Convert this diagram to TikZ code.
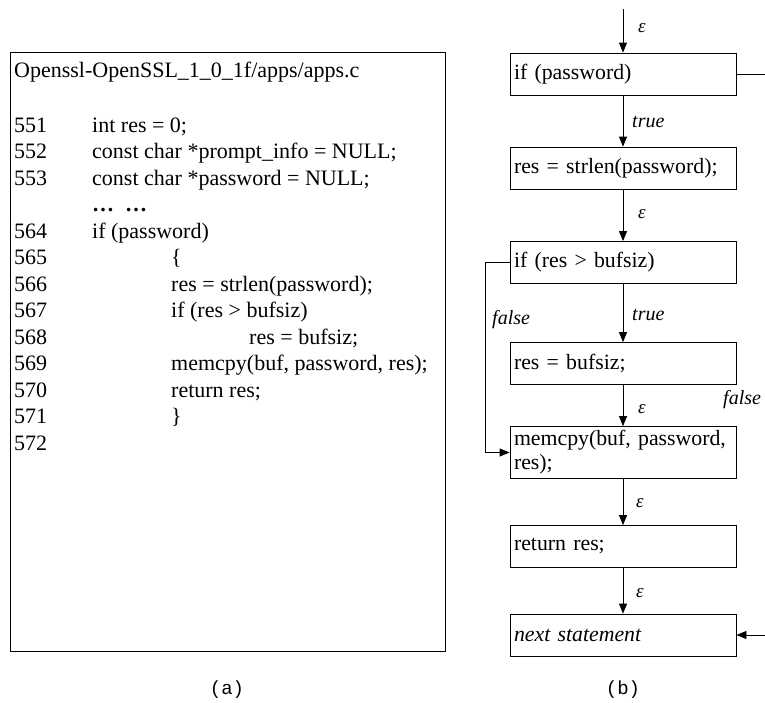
\documentclass[tikz,border=0pt]{standalone}
\usepackage{fontspec}
\setmainfont{Liberation Serif}
\newfontfamily\capfont{Liberation Mono}
\usetikzlibrary{arrows.meta}

\begin{document}
\begin{tikzpicture}[x=1pt,y=-1pt,
  stmt/.style={draw=black,line width=0.8pt,rectangle,minimum width=226pt,minimum height=42pt,
    text width=218pt,inner sep=4pt,align=left,font=\fontsize{21.8}{24}\selectfont},
  src/.style={anchor=base west,inner sep=0pt,font=\fontsize{22}{25}\selectfont},
  flow/.style={draw=black,line width=0.8pt,-{Triangle[length=10pt,width=8pt]}},
  cond/.style={anchor=west,inner sep=0pt,font=\fontsize{20}{24}\selectfont\itshape},
  eps/.style={anchor=west,inner sep=0pt,font=\fontsize{19}{20}\selectfont\itshape},
  subcap/.style={font=\fontsize{19}{20}\selectfont\capfont}]
\clip (0,0) rectangle (765,702);
\fill[white] (0,0) rectangle (765,702);

% (a) source listing
\node[draw=black,line width=0.8pt,minimum width=435pt,minimum height=599pt,inner sep=0pt] at (227.5,351.5) (code) {};
\node[src] at (14,77) (file) {Openssl-OpenSSL\_1\_0\_1f/apps/apps.c};
\node[src] at (14,132) (n551) {551};
\node[src] at (14,158.5) (n552) {552};
\node[src] at (14,185) (n553) {553};
\node[src] at (14,238) (n564) {564};
\node[src] at (14,264.5) (n565) {565};
\node[src] at (14,291) (n566) {566};
\node[src] at (14,317.5) (n567) {567};
\node[src] at (14,344) (n568) {568};
\node[src] at (14,370.5) (n569) {569};
\node[src] at (14,397) (n570) {570};
\node[src] at (14,423.5) (n571) {571};
\node[src] at (14,450) (n572) {572};
\node[src] at (92,132) (l551) {int res = 0;};
\node[src] at (92,158.5) (l552) {const char *prompt\_info = NULL;};
\node[src] at (92,185) (l553) {const char *password = NULL;};
\node[src] at (92,211.5) (skip) {\textbf{…\ \ …}};
\node[src] at (92,238) (l564) {if (password)};
\node[src] at (171,264.5) (l565) {\{};
\node[src] at (171,291) (l566) {res = strlen(password);};
\node[src] at (171,317.5) (l567) {if (res > bufsiz)};
\node[src] at (249,344) (l568) {res = bufsiz;};
\node[src] at (171,370.5) (l569) {memcpy(buf, password, res);};
\node[src] at (171,397) (l570) {return res;};
\node[src] at (171,423.5) (l571) {\}};
\node[subcap] at (227,690) (capa) {(a)};

% (b) control flow graph
\node[stmt] at (623,74) (ifpw) {if (password)};
\node[stmt] at (623,168) (strlen) {res = strlen(password);};
\node[stmt] at (623,262.5) (ifres) {if (res > bufsiz)};
\node[stmt] at (623,363.5) (setres) {res = bufsiz;};
\node[stmt,minimum height=51pt] at (623,452.5) (memcpy) {memcpy(buf, password,\\res);};
\node[stmt] at (623,546.5) (ret) {return res;};
\node[stmt] at (623,635) (next) {\itshape next statement};
\node[subcap] at (623,690) (capb) {(b)};

\coordinate (entry) at (623,9);
\coordinate (side) at (780,74);
\draw[flow] (entry) -- (ifpw.north);
\draw[flow] (ifpw) -- (strlen);
\draw[flow] (strlen) -- (ifres);
\draw[flow] (ifres) -- (setres);
\draw[flow] (setres) -- (memcpy);
\draw[flow] (memcpy) -- (ret);
\draw[flow] (ret) -- (next);
\draw[flow] (ifres.west) -- ++(-24,0) |- (memcpy.west);
\draw[flow] (ifpw.east) -- (side) |- (next.east);

\node[eps] at (638,28) (e1) {ε};
\node[cond] at (632,122) (t1) {true};
\node[eps] at (638,214) (e2) {ε};
\node[cond] at (632,315) (t2) {true};
\node[cond] at (492,320) (f1) {false};
\node[eps] at (638,409) (e3) {ε};
\node[cond] at (723,400) (f2) {false};
\node[eps] at (636,503) (e4) {ε};
\node[eps] at (636,593) (e5) {ε};
\end{tikzpicture}
\end{document}
